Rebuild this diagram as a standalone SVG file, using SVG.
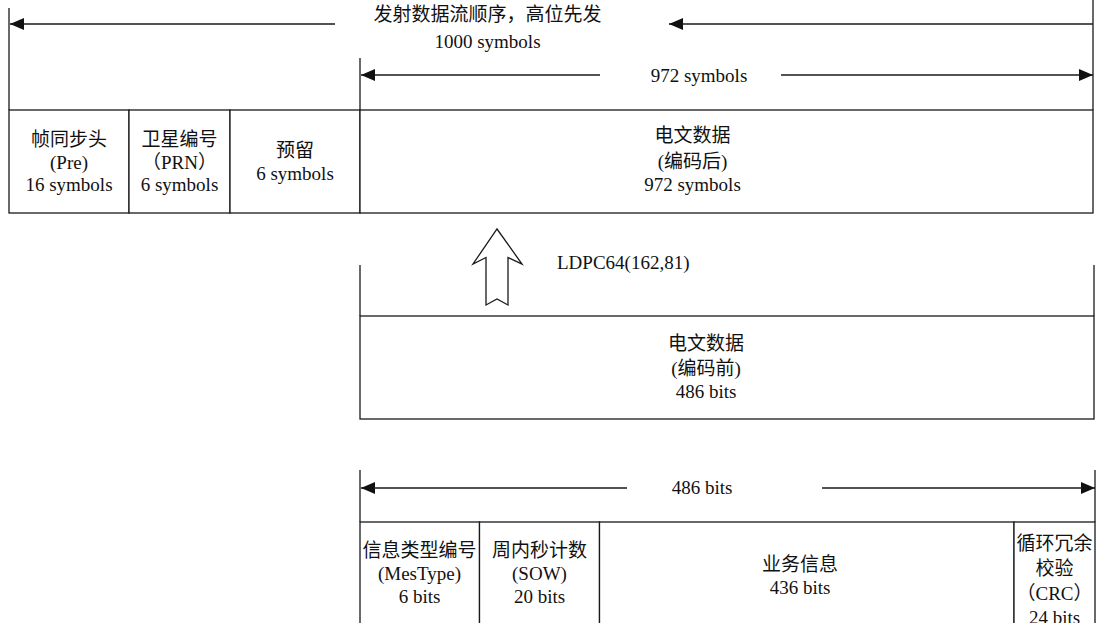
<svg xmlns="http://www.w3.org/2000/svg" width="1096" height="623" viewBox="0 0 1096 623">
<style>
  .ln{stroke:#1a1a1a;stroke-width:1.3;fill:none}
  .bx{stroke:#1a1a1a;stroke-width:1.3;fill:#fff}
  .t{font-family:"Liberation Serif","Noto Sans CJK SC",serif;font-size:19px;fill:#111;text-anchor:middle}
  .tl{font-family:"Liberation Serif","Noto Sans CJK SC",serif;font-size:19px;fill:#111;text-anchor:start}
</style>
<defs>
  <marker id="ah" markerUnits="userSpaceOnUse" markerWidth="14" markerHeight="12" refX="14" refY="6" orient="auto">
    <path d="M0,0 L14,6 L0,12 z" fill="#111"/>
  </marker>
</defs>
<rect width="1096" height="623" fill="#fff"/>

<g id="connectors">
  <!-- extension lines -->
  <line class="ln" x1="9" y1="8" x2="9" y2="110"/>
  <line class="ln" x1="1093" y1="0" x2="1093" y2="110"/>
  <line class="ln" x1="360" y1="58" x2="360" y2="110"/>
  <line class="ln" x1="360" y1="265" x2="360" y2="316"/>
  <line class="ln" x1="1094" y1="265" x2="1094" y2="316"/>
  <line class="ln" x1="360" y1="470" x2="360" y2="522"/>
  <line class="ln" x1="1095" y1="470" x2="1095" y2="522"/>
  <!-- dimension arrows -->
  <line class="ln" x1="335" y1="24" x2="10" y2="24" marker-end="url(#ah)"/>
  <line class="ln" x1="1093" y1="24" x2="669" y2="24" marker-end="url(#ah)"/>
  <line class="ln" x1="600" y1="75" x2="361" y2="75" marker-end="url(#ah)"/>
  <line class="ln" x1="781" y1="75" x2="1093" y2="75" marker-end="url(#ah)"/>
  <line class="ln" x1="627" y1="488" x2="361" y2="488" marker-end="url(#ah)"/>
  <line class="ln" x1="822" y1="488" x2="1095" y2="488" marker-end="url(#ah)"/>
  <!-- hollow up arrow -->
  <polygon class="bx" points="497,229 522,264 508,257.5 508,305 497,299 486,305 486,257.5 473,264"/>
</g>

<g id="labels">
  <text class="t" x="487.5" y="21">发射数据流顺序，高位先发</text>
  <text class="t" x="487.5" y="48">1000 symbols</text>
  <text class="t" x="699" y="82">972 symbols</text>
  <text class="tl" x="557" y="269">LDPC64(162,81)</text>
  <text class="t" x="702" y="494">486 bits</text>
</g>

<g id="frame-row">
  <g id="pre">
    <rect class="bx" x="9" y="110" width="120" height="103"/>
    <text class="t" x="69" y="146">帧同步头</text>
    <text class="t" x="69" y="169">(Pre)</text>
    <text class="t" x="69" y="191">16 symbols</text>
  </g>
  <g id="prn">
    <rect class="bx" x="129" y="110" width="101" height="103"/>
    <text class="t" x="179.5" y="146">卫星编号</text>
    <text class="t" x="179.5" y="169">（PRN）</text>
    <text class="t" x="179.5" y="191">6 symbols</text>
  </g>
  <g id="reserved">
    <rect class="bx" x="230" y="110" width="130" height="103"/>
    <text class="t" x="295" y="157">预留</text>
    <text class="t" x="295" y="180">6 symbols</text>
  </g>
  <g id="data-coded">
    <rect class="bx" x="360" y="110" width="733" height="103"/>
    <text class="t" x="692.5" y="142">电文数据</text>
    <text class="t" x="692.5" y="168">(编码后)</text>
    <text class="t" x="692.5" y="191">972 symbols</text>
  </g>
</g>

<g id="data-uncoded">
  <rect class="bx" x="360" y="316" width="734" height="103"/>
  <text class="t" x="706" y="350">电文数据</text>
  <text class="t" x="706" y="375">(编码前)</text>
  <text class="t" x="706" y="398">486 bits</text>
</g>

<g id="msg-row">
  <g id="mestype">
    <rect class="bx" x="360" y="522" width="119.5" height="110"/>
    <text class="t" x="419.5" y="557">信息类型编号</text>
    <text class="t" x="419.5" y="580">(MesType)</text>
    <text class="t" x="419.5" y="603">6 bits</text>
  </g>
  <g id="sow">
    <rect class="bx" x="479.5" y="522" width="120" height="110"/>
    <text class="t" x="539.5" y="557">周内秒计数</text>
    <text class="t" x="539.5" y="580">(SOW)</text>
    <text class="t" x="539.5" y="603">20 bits</text>
  </g>
  <g id="service">
    <rect class="bx" x="599.5" y="522" width="414.5" height="110"/>
    <text class="t" x="800" y="571">业务信息</text>
    <text class="t" x="800" y="594">436 bits</text>
  </g>
  <g id="crc">
    <rect class="bx" x="1014" y="522" width="81" height="110"/>
    <text class="t" x="1054.5" y="550">循环冗余</text>
    <text class="t" x="1054.5" y="575">校验</text>
    <text class="t" x="1054.5" y="600">（CRC）</text>
    <text class="t" x="1054.5" y="624">24 bits</text>
  </g>
</g>
</svg>
